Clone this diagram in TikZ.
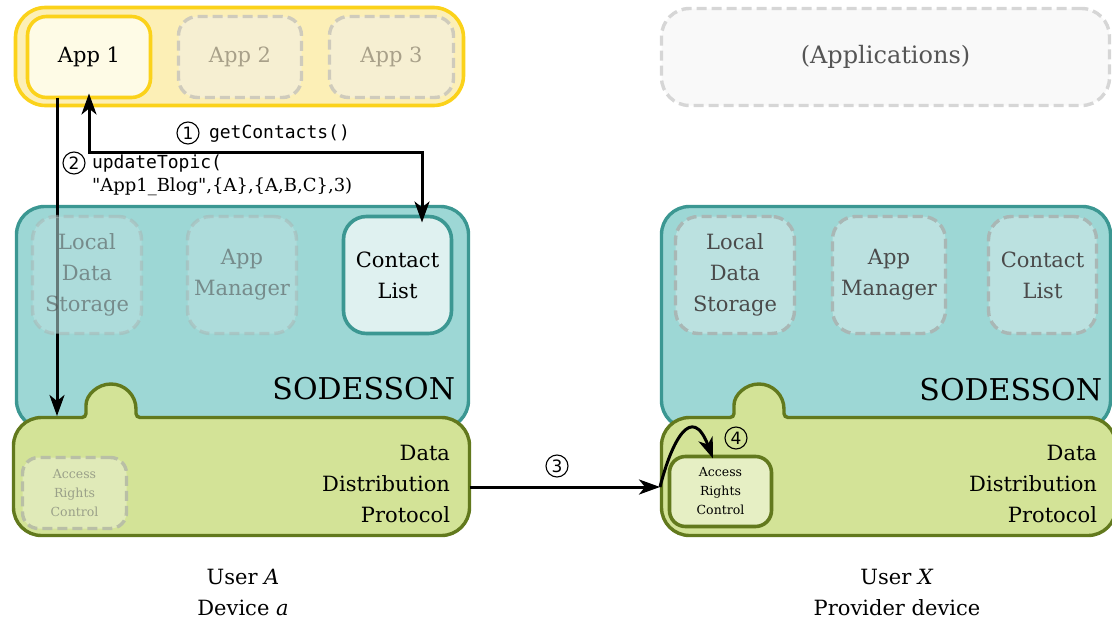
\documentclass[tikz,border=0pt]{standalone}
\usepackage{fontspec}
\setmainfont{DejaVu Serif}
\setmonofont{DejaVu Sans Mono}
\newfontfamily\symfont{DejaVu Sans}
\newfontfamily\argfont{DejaVu Serif}
\usetikzlibrary{arrows.meta}
\newcommand\fMain{\fontsize{21}{31}\selectfont}
\newcommand\fBig{\fontsize{30}{36}\selectfont}
\newcommand\fSmall{\fontsize{12.5}{19}\selectfont}
\newcommand\fApps{\fontsize{24}{30}\selectfont}
\newcommand\fCode{\fontsize{18}{24}\selectfont\ttfamily}
\newcommand\fArg{\fontsize{18}{24}\selectfont\argfont}
\newcommand\fNum{\fontsize{17}{17}\selectfont\symfont}
\definecolor{gold}{HTML}{FBD21A}
\definecolor{yellowbg}{HTML}{FCEFB6}
\definecolor{appfill}{HTML}{FEFBE6}
\definecolor{ghostline}{HTML}{CFCBBC}
\definecolor{ghostfill}{HTML}{F6EFD2}
\definecolor{ghosttext}{HTML}{A8A089}
\definecolor{xline}{HTML}{D6D6D6}
\definecolor{xfill}{HTML}{F9F9F9}
\definecolor{xtext}{HTML}{555555}
\definecolor{tealfill}{HTML}{9DD7D5}
\definecolor{tealline}{HTML}{3B9792}
\definecolor{tghostfill}{HTML}{BBE1E0}
\definecolor{tghostline}{HTML}{A9B7B5}
\definecolor{tghosttext}{HTML}{4A4A4A}
\definecolor{clfill}{HTML}{DFF1F0}
\definecolor{greenfill}{HTML}{D3E397}
\definecolor{oliveline}{HTML}{62791D}
\definecolor{arfill}{HTML}{E6EFC4}
\definecolor{arghostfill}{HTML}{E0EAB8}
\definecolor{arghostline}{HTML}{B9BFA6}
\definecolor{arghosttext}{HTML}{9AA089}
\tikzset{
  every node/.style={inner sep=0pt, outer sep=0pt},
  dashpat/.style={dash pattern=on 10pt off 5pt},
  container/.style={draw=gold, fill=yellowbg, line width=3.6pt, rounded corners=30pt},
  appbox/.style={draw=gold, fill=appfill, line width=3.6pt, rounded corners=19pt, font=\fMain},
  ghostapp/.style={draw=ghostline, fill=ghostfill, line width=3.4pt, dashpat, rounded corners=19pt, text=ghosttext, font=\fMain},
  xapps/.style={draw=xline, fill=xfill, line width=3.4pt, dashpat, rounded corners=28pt, text=xtext, font=\fApps},
  tealbox/.style={draw=tealline, fill=tealfill, line width=3.4pt, rounded corners=28pt},
  tghost/.style={draw=tghostline, fill=tghostfill, line width=3.4pt, dashpat, rounded corners=23pt, text=tghosttext, font=\fMain, align=center},
  dim/.style={opacity=0.55},
  tsolid/.style={draw=tealline, fill=clfill, line width=3.6pt, rounded corners=23pt, font=\fMain, align=center},
  greenshape/.style={draw=oliveline, fill=greenfill, line width=3.4pt},
  arsolid/.style={draw=oliveline, fill=arfill, line width=3.6pt, rounded corners=16pt, font=\fSmall, align=center},
  arghost/.style={draw=arghostline, fill=arghostfill, line width=3.4pt, dashpat, rounded corners=16pt, text=arghosttext, font=\fSmall, align=center},
  stepnum/.style={circle, draw, line width=1.1pt, minimum size=22pt, font=\fNum},
  tip/.tip={Stealth[length=21pt, width=15pt, inset=6pt]},
  conn/.style={line width=3pt, -tip},
  biconn/.style={line width=3pt, tip-tip},
}
\begin{document}
\begin{tikzpicture}[x=1pt,y=1pt]
\useasboundingbox (0,0) rectangle (1112,-621);
% applications row
\node[container, minimum width=448pt, minimum height=98pt] (apps) at (239.5,-56.5) {};
\node[appbox, minimum width=123pt, minimum height=81pt] (app1) at (89,-57) {App 1};
\node[ghostapp, minimum width=123pt, minimum height=81pt] (app2) at (240,-57) {App 2};
\node[ghostapp, minimum width=124pt, minimum height=81pt] (app3) at (391.5,-57) {App 3};
\node[xapps, minimum width=448pt, minimum height=97pt] (appsX) at (885.5,-57) {(Applications)};
% SODESSON boxes
\node[tealbox, minimum width=452pt, minimum height=222pt] (sodA) at (242.5,-317.5) {};
\node[tealbox, minimum width=449pt, minimum height=222pt] (sodX) at (886,-317.5) {};
\node[anchor=base east, font=\fBig] (sodAlbl) at (455,-399) {SODESSON};
\node[anchor=base east, font=\fBig] (sodXlbl) at (1102,-400) {SODESSON};
\node[tsolid, minimum width=108pt, minimum height=117pt] (cl1) at (397.5,-275) {Contact\\List};
\node[tghost, minimum width=119pt, minimum height=117pt] (lds2) at (735,-275) {Local\\Data\\Storage};
\node[tghost, minimum width=113pt, minimum height=117pt] (am2) at (889,-275) {App\\Manager};
\node[tghost, minimum width=108pt, minimum height=117pt] (cl2) at (1042.5,-275) {Contact\\List};
% data distribution protocol shapes
\draw[greenshape] (13.5,-480) [rounded corners=28pt] -- (13.5,-417.5) [rounded corners=4pt] -- (86,-417.5) -- (86,-409) [sharp corners] arc[start angle=180, end angle=0, radius=25] [rounded corners=4pt] -- (136,-417.5) [rounded corners=28pt] -- (469.5,-417.5) -- (469.5,-535.5) -- (13.5,-535.5) -- cycle;
\draw[greenshape] (661.5,-480) [rounded corners=28pt] -- (661.5,-417.5) [rounded corners=4pt] -- (734,-417.5) -- (734,-409) [sharp corners] arc[start angle=180, end angle=0, radius=25] [rounded corners=4pt] -- (784,-417.5) [rounded corners=28pt] -- (1116,-417.5) -- (1116,-535.5) -- (661.5,-535.5) -- cycle;
\coordinate (ddpAtop) at (57,-416);
\coordinate (ddpAout) at (469.5,-487);
\coordinate (ddpXin) at (660,-487);
\node[anchor=east, align=right, font=\fMain] (ddpA) at (450,-484) {Data\\Distribution\\Protocol};
\node[anchor=east, align=right, font=\fMain] (ddpX) at (1097,-484) {Data\\Distribution\\Protocol};
\node[arsolid, minimum width=102pt, minimum height=70pt] (ar2) at (720.5,-491.5) {Access\\Rights\\Control};
% connectors
\draw[biconn] ([yshift=4pt]app1.south) |- (422,-152) -- ([xshift=24.5pt,yshift=-6pt]cl1.north);
\draw[conn] ([xshift=-32pt]app1.south) -- (ddpAtop);
\draw[conn] (ddpAout) -- (ddpXin);
\draw[conn] (ddpXin) .. controls (672,-440) and (692,-403) .. ([yshift=-2pt]ar2.north -| 713,0);
% dimmed components of device a (drawn over the connector)
\node[tghost, dim, minimum width=109pt, minimum height=117pt] (lds1) at (87,-275) {Local\\Data\\Storage};
\node[tghost, dim, minimum width=109pt, minimum height=117pt] (am1) at (242,-275) {App\\Manager};
\node[arghost, minimum width=104pt, minimum height=71pt] (ar1) at (74.5,-493) {Access\\Rights\\Control};
% labels
\node[stepnum] (n1) at (188,-133) {1};
\node[anchor=west, font=\fCode] (n1t) at (209,-134) {getContacts()};
\node[stepnum] (n2) at (74,-163) {2};
\node[anchor=west, font=\fCode] (n2t) at (92,-164) {updateTopic(};
\node[anchor=west, font=\fArg] (n2b) at (92,-187) {"App1\_Blog",\{A\},\{A,B,C\},3)};
\node[stepnum] (n3) at (557,-466) {3};
\node[stepnum] (n4) at (736,-438) {4};
\node[align=center, font=\fMain] (userA) at (243,-592) {User \textit{A}\\Device \textit{a}};
\node[align=center, font=\fMain] (userX) at (897,-592) {User \textit{X}\\Provider device};
\end{tikzpicture}
\end{document}
